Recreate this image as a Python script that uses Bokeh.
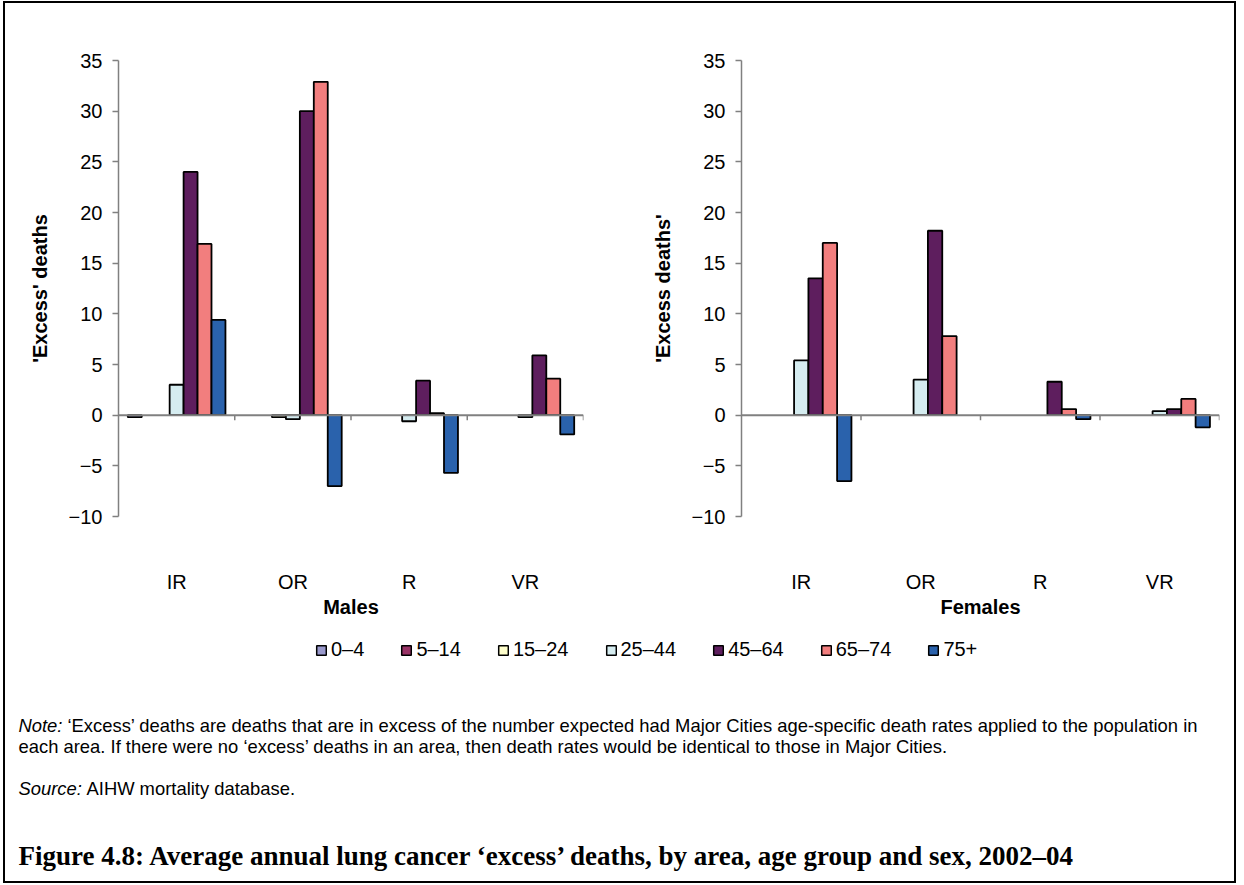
from bokeh.plotting import figure
from bokeh.models import FactorRange, Range1d, ColumnDataSource, Span, FixedTicker, Legend, LegendItem
from bokeh.transform import dodge
from bokeh.layouts import column, row
from bokeh.core.properties import value
from bokeh.embed import file_html
from bokeh.resources import INLINE

# ---------------- data ----------------
areas = ["IR", "OR", "R", "VR"]
ages = ["0–4", "5–14", "15–24", "25–44", "45–64", "65–74", "75+"]
colors = ["#9999CC", "#993366", "#FFFFCC", "#D5ECF0", "#5E1E5E", "#F27E7E", "#2A62AC"]

males_0_4 = [-0.2, 0, 0, 0]
males_5_14 = [0, 0, 0, 0]
males_15_24 = [0, -0.2, 0, 0]
males_25_44 = [3.0, -0.4, -0.6, -0.2]
males_45_64 = [24.0, 30.0, 3.4, 5.9]
males_65_74 = [16.9, 32.9, 0.2, 3.6]
males_75p = [9.4, -7.0, -5.7, -1.9]

females_0_4 = [0, 0, 0, 0]
females_5_14 = [0, 0, 0, 0]
females_15_24 = [0, 0, 0, 0]
females_25_44 = [5.4, 3.5, 0, 0.4]
females_45_64 = [13.5, 18.2, 3.3, 0.6]
females_65_74 = [17.0, 7.8, 0.6, 1.6]
females_75p = [-6.5, 0, -0.4, -1.2]

y_ticks = [-10, -5, 0, 5, 10, 15, 20, 25, 30, 35]

males = [males_0_4, males_5_14, males_15_24, males_25_44, males_45_64, males_65_74, males_75p]
females = [females_0_4, females_5_14, females_15_24, females_25_44, females_45_64, females_65_74, females_75p]

FONT = "Liberation Sans"
BAR_W = 0.12
AXIS_GREY = "#808080"
CHART_H = 617


def make_chart(series, ylabel, xlabel, width, bl, br, ystand):
    p = figure(x_range=FactorRange(*areas), y_range=Range1d(-10, 35),
               width=width, height=CHART_H, output_backend="svg", toolbar_location=None,
               min_border_left=bl, min_border_right=br, min_border_top=57, min_border_bottom=100)
    p.outline_line_color = None
    p.grid.visible = False

    # zero line with category-boundary ticks
    p.add_layout(Span(location=0, dimension="width", line_color=AXIS_GREY, line_width=2))
    bounds = list(range(1, len(areas) + 1))
    p.segment(x0=bounds, y0=[0] * len(bounds), x1=bounds, y1=[-0.5] * len(bounds),
              line_color=AXIS_GREY, line_width=1.5)

    for i, vals in enumerate(series):
        rows = [(a, v) for a, v in zip(areas, vals) if v != 0]
        src = ColumnDataSource(dict(area=[r[0] for r in rows], val=[r[1] for r in rows]))
        p.vbar(x=dodge("area", (i - 3) * BAR_W, range=p.x_range), top="val", bottom=0,
               width=BAR_W, source=src, fill_color=colors[i], line_color="black", line_width=1.8)

    ya = p.yaxis[0]
    ya.ticker = FixedTicker(ticks=y_ticks)
    ya.axis_line_color = AXIS_GREY
    ya.axis_line_width = 1.5
    ya.major_tick_line_color = AXIS_GREY
    ya.major_tick_line_width = 1.5
    ya.major_tick_out = 6
    ya.major_tick_in = 0
    ya.minor_tick_line_color = None
    ya.major_label_standoff = 10
    ya.major_label_text_font = FONT
    ya.major_label_text_font_size = "20px"
    ya.major_label_text_color = "black"
    ya.axis_label = ylabel
    ya.axis_label_text_font = FONT
    ya.axis_label_text_font_size = "20px"
    ya.axis_label_text_font_style = "bold"
    ya.axis_label_text_color = "black"
    ya.axis_label_standoff = ystand

    xa = p.xaxis[0]
    xa.axis_line_color = None
    xa.major_tick_line_color = None
    xa.minor_tick_line_color = None
    xa.major_label_standoff = 48
    xa.major_label_text_font = FONT
    xa.major_label_text_font_size = "20px"
    xa.major_label_text_color = "black"
    xa.axis_label = xlabel
    xa.axis_label_text_font = FONT
    xa.axis_label_text_font_size = "20px"
    xa.axis_label_text_font_style = "bold"
    xa.axis_label_text_color = "black"
    xa.axis_label_standoff = 0
    return p


pm = make_chart(males, "'Excess' deaths", "Males", 623, 113, 45, 15)
pf = make_chart(females, "'Excess deaths'", "Females", 606, 113, 15, 15)

# ---------------- bottom panel: legend, note, source, title ----------------
BW, BH = 1229, 261
pb = figure(width=BW, height=BH, x_range=Range1d(0, BW), y_range=Range1d(BH, 0),
            x_axis_location=None, y_axis_location=None, min_border=0,
            toolbar_location=None, output_backend="svg")
pb.outline_line_color = None
pb.grid.visible = False

# legend proxies (no visible mark: NaN height)
legend_items = []
for i, age in enumerate(ages):
    r = pb.vbar(x=[0], top=[float("nan")], bottom=[float("nan")], width=1,
                fill_color=colors[i], line_color="black", line_width=1.5)
    legend_items.append(LegendItem(label=age, renderers=[r]))

lg = Legend(items=legend_items, location=(310, 220), orientation="horizontal", spacing=36,
            glyph_width=12, glyph_height=12, label_standoff=4,
            label_text_font=FONT, label_text_font_size="20px", label_text_baseline="top",
            label_text_color="black",
            padding=0, margin=0, border_line_color=None, background_fill_alpha=0)
pb.add_layout(lg)

note1a = "Note:"
note1b = "‘Excess’ deaths are deaths that are in excess of the number expected had Major Cities age-specific death rates applied to the population in"
note2 = "each area. If there were no ‘excess’ deaths in an area, then death rates would be identical to those in Major Cities."
src_a = "Source:"
src_b = "AIHW mortality database."
title = "Figure 4.8: Average annual lung cancer ‘excess’ deaths, by area, age group and sex, 2002–04"

common = dict(text_font=value(FONT), text_font_size="18.4px", text_baseline="middle", text_color="black")
pb.text(x=[13], y=[105], text=[note1a], text_font_style="italic", **common)
pb.text(x=[62], y=[105], text=[note1b], **common)
pb.text(x=[13], y=[126], text=[note2], **common)
pb.text(x=[13], y=[168], text=[src_a], text_font_style="italic", **common)
pb.text(x=[81], y=[168], text=[src_b], **common)
pb.text(x=[13], y=[235], text=[title], text_font=value("Liberation Serif"), text_font_size="27px",
        text_font_style="bold", text_baseline="middle", text_color="black")

layout = column(row(pm, pf), pb,
                styles={"border": "2px solid black", "margin-left": "3px", "margin-top": "1px",
                        "background-color": "white"})

open("out.html", "w").write(file_html(layout, INLINE))
